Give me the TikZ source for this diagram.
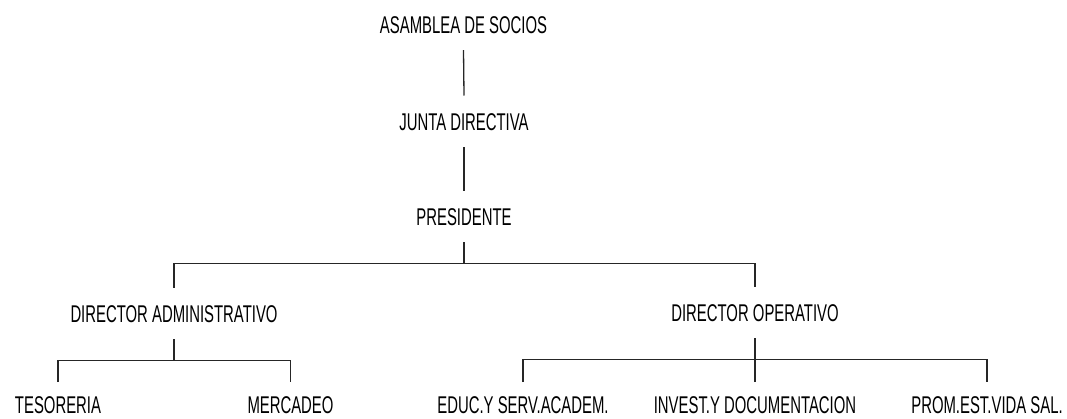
\documentclass[tikz,border=0pt]{standalone}
\usepackage{fontspec}
\setmainfont{Liberation Sans}[FakeStretch=0.615]
\begin{document}
\begin{tikzpicture}[x=1pt,y=-1pt,
  lbl/.style={inner xsep=0pt, inner ysep=17pt, anchor=base, text height=17.3pt, text depth=0pt,
    font=\fontsize{24.2pt}{28pt}\selectfont, text=black},
  leaf/.style={lbl, inner ysep=0pt},
  conn/.style={draw=black!85, line width=1.3pt}]
\useasboundingbox (0,0) rectangle (1067,418);
\node[lbl] (asam) at (463.5,33) {ASAMBLEA DE SOCIOS};
\node[lbl] (junta) at (464,130) {JUNTA DIRECTIVA};
\node[lbl] (pres) at (464,225) {PRESIDENTE};
\node[lbl] (da) at (174,322) {DIRECTOR ADMINISTRATIVO};
\node[lbl] (do) at (755,321) {DIRECTOR OPERATIVO};
\node[leaf] (tes) at (58,413.5) {TESORERIA};
\node[leaf] (mer) at (290.5,413.5) {MERCADEO};
\node[leaf] (edu) at (523,413.5) {EDUC.Y SERV.ACADEM.};
\node[leaf] (inv) at (755,413.5) {INVEST.Y DOCUMENTACION};
\node[leaf] (prom) at (987,413.5) {PROM.EST.VIDA SAL.};
\draw[conn] (asam.south) -- (junta.north);
\draw[conn] (junta.south) -- (pres.north);
\draw[conn] (pres.south) -- ++(0,21) coordinate (pf);
\draw[conn] (da.north) |- (pf) -| (do.north);
\draw[conn] (da.south) -- ++(0,21) coordinate (af);
\draw[conn] ([yshift=14pt]tes.north) |- (af) -| ([yshift=14pt]mer.north);
\draw[conn] (do.south) -- ++(0,21) coordinate (of);
\draw[conn] ([yshift=14pt]edu.north) |- (of) -| ([yshift=14pt]prom.north);
\draw[conn] ([yshift=14pt]inv.north) -- (of);
\end{tikzpicture}
\end{document}
